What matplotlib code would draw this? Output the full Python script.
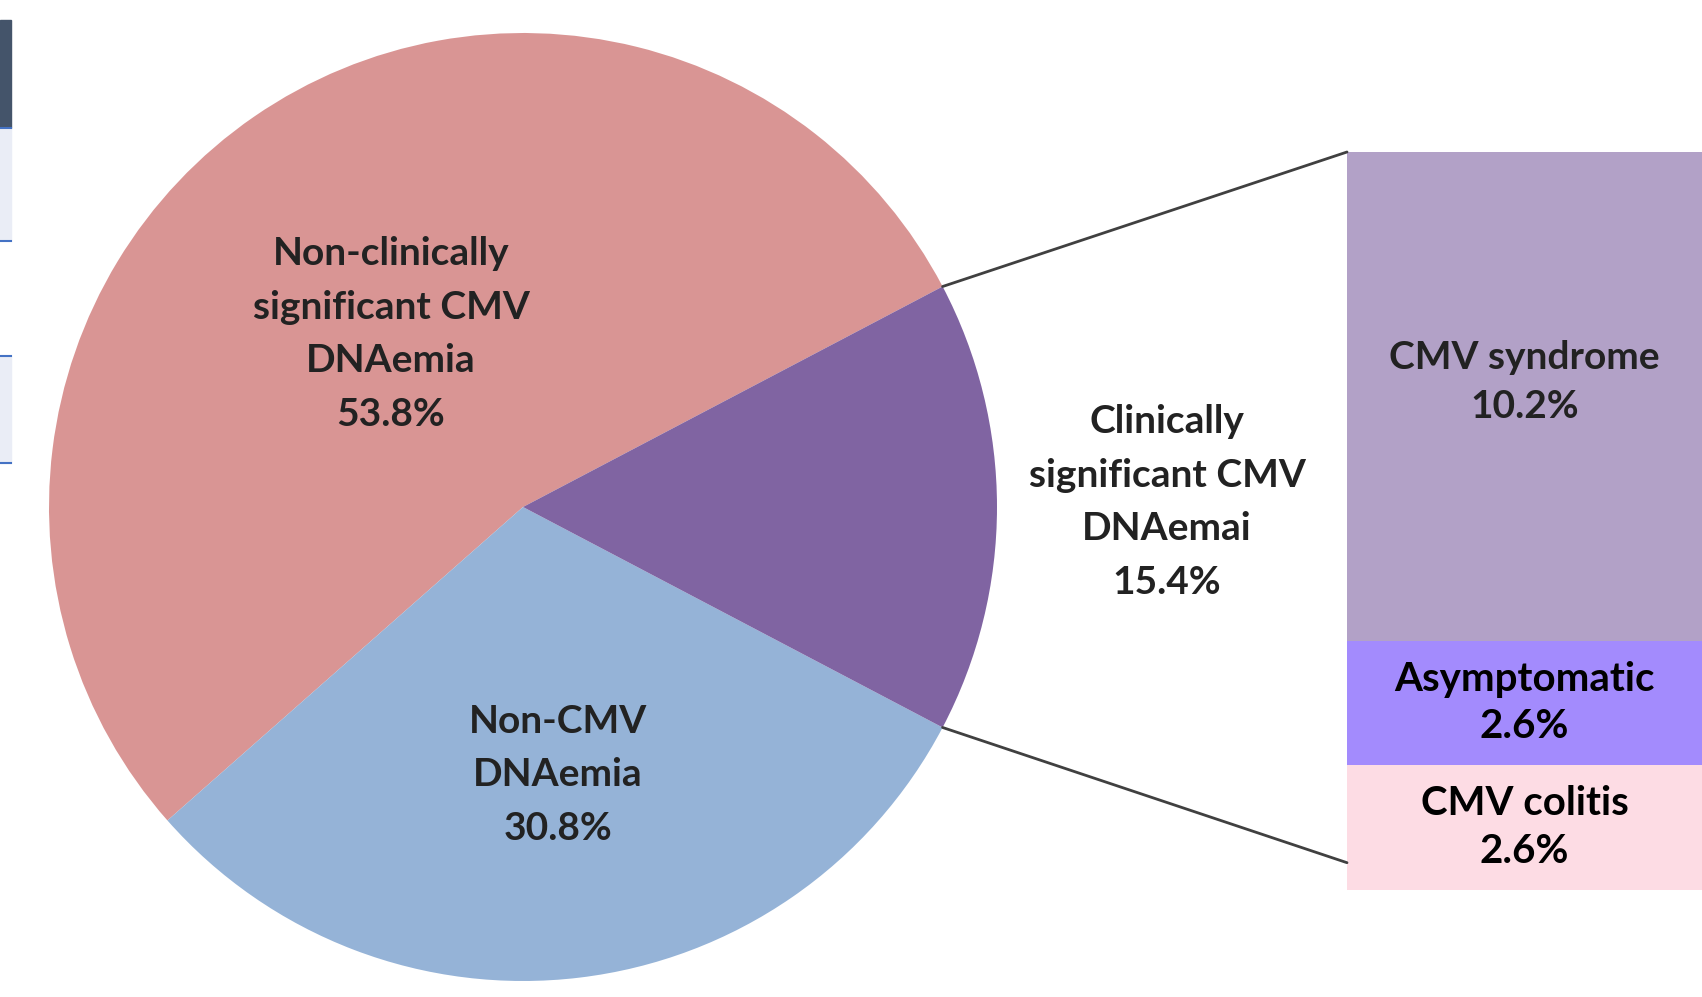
import numpy as np
import matplotlib.pyplot as plt
from matplotlib.patches import ConnectionPatch, Rectangle

# pie data
pie_labels = ['Non-clinically\nsignificant CMV\nDNAemia', 'Non-CMV\nDNAemia', 'Clinically\nsignificant CMV\nDNAemai']
pie_values = [53.8, 30.8, 15.4]
pie_colors = ['#D99594', '#95B3D7', '#8064A2']

# breakdown of the clinically significant slice (bottom to top)
bar_labels = ['CMV colitis', 'Asymptomatic', 'CMV syndrome']
bar_values = [2.6, 2.6, 10.2]
bar_colors = ['#FDDCE4', '#A38BFD', '#B2A1C7']

W, H = 1702, 997
fig = plt.figure(figsize=(W / 100, H / 100), dpi=100)
ax = fig.add_axes([0, 0, 1, 1])
ax.set_xlim(0, W)
ax.set_ylim(0, H)
ax.set_aspect('equal')
ax.axis('off')

# bits of a table cut off at the left edge of the screenshot
ax.add_patch(Rectangle((0, H - 128), 11, 108, color='#44546A', zorder=0))
for top, bot, fc in [(128, 241, '#EAEDF6'), (241, 356, 'white'), (356, 463, '#EAEDF6')]:
    ax.add_patch(Rectangle((0, H - bot), 11, bot - top, color=fc, zorder=0))
for y in [128, 241, 356, 463]:
    ax.plot([0, 11], [H - y, H - y], color='#4472C4', lw=1.5)

cx, cy, r = 523, H - 507, 474
start = 360 * pie_values[2] / 100 / 2
wedges, _ = ax.pie(pie_values, colors=pie_colors, center=(cx, cy), radius=r,
                   startangle=start, counterclock=True,
                   wedgeprops=dict(linewidth=0))
ax.set_xlim(0, W)
ax.set_ylim(0, H)

font = 'Lato'
tkw = dict(ha='center', va='center', fontsize=28, fontweight='bold', family=font,
           color='#222222', linespacing=1.65)
ax.text(391, H - 334, pie_labels[0] + '\n%.1f%%' % pie_values[0], **tkw)
ax.text(558, H - 775, pie_labels[1] + '\n%.1f%%' % pie_values[1], **tkw)
ax.text(1167, H - 502, pie_labels[2] + '\n%.1f%%' % pie_values[2], **tkw)

# stacked bar
bx0, btop, bbot = 1347, 152, 890
bax = fig.add_axes([bx0 / W, (H - bbot) / H, (W - bx0) / W, (bbot - btop) / H])
bottom = 0
for lab, v, c in zip(bar_labels, bar_values, bar_colors):
    bax.bar(0, v, bottom=bottom, width=1, color=c, linewidth=0)
    big = v > 5
    bax.text(0, bottom + v / 2 + (0.3 if big else 0), '%s\n%.1f%%' % (lab, v),
             ha='center', va='center', fontsize=28 if big else 29, fontweight='bold',
             family=font, color='#222222' if big else 'black',
             linespacing=1.5 if big else 1.35)
    bottom += v
bax.set_xlim(-0.5, 0.5)
bax.set_ylim(0, bottom)
bax.axis('off')

# connector lines from the slice edges to the bar
w = wedges[2]
for ang, yb in [(w.theta2, 1.0), (w.theta1, 0.037)]:
    px = cx + r * np.cos(np.radians(ang))
    py = cy + r * np.sin(np.radians(ang))
    con = ConnectionPatch(xyA=(0, yb), coordsA=bax.transAxes,
                          xyB=(px, py), coordsB=ax.transData,
                          color='#404040', linewidth=2)
    fig.add_artist(con)

fig.savefig('out.png', dpi=100)
